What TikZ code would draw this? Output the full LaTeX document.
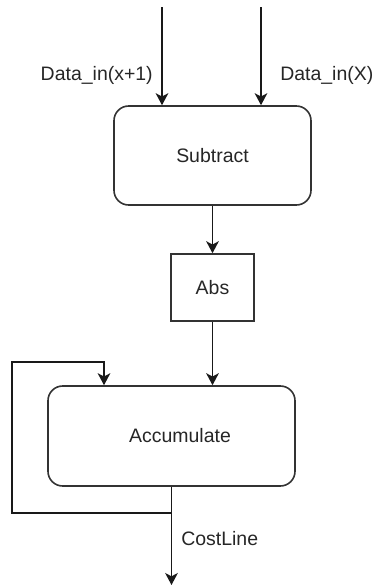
\documentclass[tikz,border=0pt]{standalone}
\usepackage{fontspec}
\setmainfont{Liberation Sans}
\usetikzlibrary{arrows.meta}
\begin{document}
\begin{tikzpicture}[x=0.75pt,y=-0.75pt,
  every node/.style={font=\fontsize{14.6}{17}\selectfont, text=black!85},
  blk/.style={draw=black!80, line width=1.2pt, rounded corners=11pt, inner sep=0pt},
  sq/.style={draw=black!80, line width=1.2pt, inner sep=0pt},
  conn/.style={draw=black!90, line width=1.2pt, -{Stealth[length=9pt,width=9.5pt,inset=2.5pt]}},
  wire/.style={draw=black!90, line width=1.2pt},
  lbl/.style={inner sep=0pt}]
\useasboundingbox (0,0) rectangle (374,586);
\node[blk, minimum width=147.75pt, minimum height=74.25pt] (sub) at (212.5,155.5) {Subtract};
\node[sq, minimum width=62.25pt, minimum height=50.25pt] (abs) at (212.5,287.5) {Abs};
\node[blk, minimum width=185.25pt, minimum height=75pt, label={[xshift=6.4pt]center:Accumulate}] (acc) at (171.5,436) {};
\coordinate (in1) at (162,7);
\coordinate (in2) at (261,7);
\coordinate (out) at (171.5,585);
\coordinate (j) at (171.5,513);
\coordinate (fb1) at (12,513);
\coordinate (fb2) at (12,362);
\coordinate (fb3) at (104,362);
\node[lbl, anchor=east] (l1) at (153,75) {Data\_in(x+1)};
\node[lbl, anchor=west] (l2) at (280,75) {Data\_in(X)};
\node[lbl, anchor=west] (l3) at (181,539) {CostLine};
\draw[conn] (in1) -- (in1 |- sub.north);
\draw[conn] (in2) -- (in2 |- sub.north);
\draw[conn] (sub.south -| abs.north) -- (abs.north);
\draw[conn] (abs.south) -- (abs.south |- acc.north);
\draw[conn] (acc.south) -- (out);
\draw[conn] (j) -- (fb1) -- (fb2) -- (fb3) -- (fb3 |- acc.north);
\end{tikzpicture}
\end{document}
